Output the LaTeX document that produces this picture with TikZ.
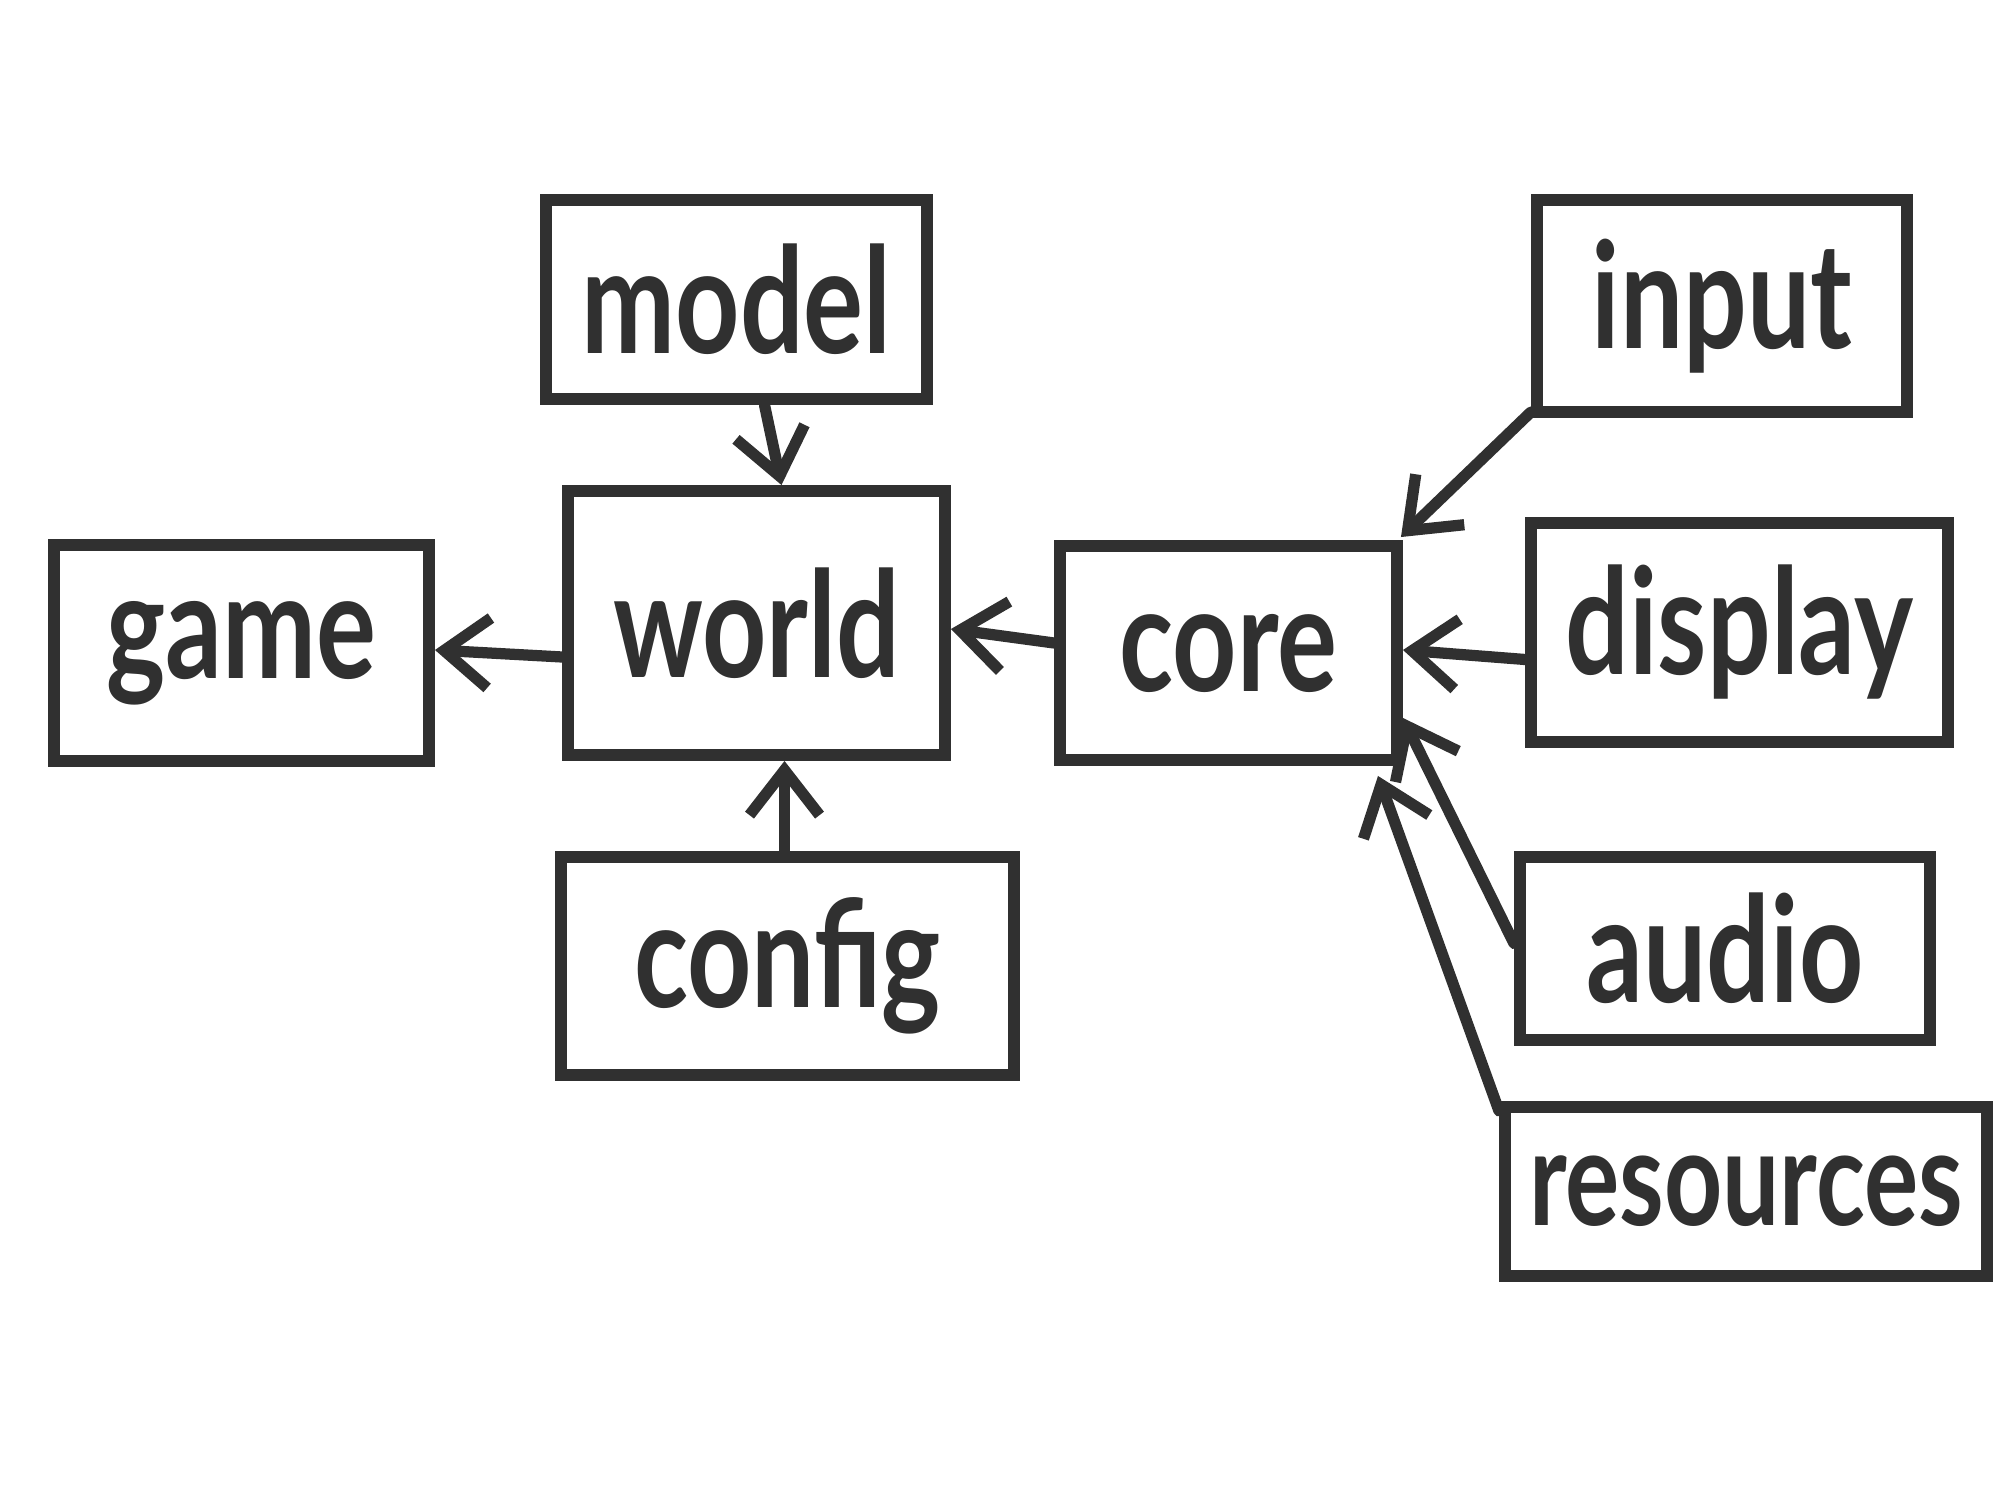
\documentclass[tikz,border=0pt]{standalone}
\usepackage{fontspec}
\newfontfamily\handfont[FakeStretch=0.76]{Lato Bold}
\usetikzlibrary{arrows.meta}
\definecolor{ink}{HTML}{303030}
\begin{document}
\begin{tikzpicture}[
  box/.style={draw=ink, line width=3.4pt, rectangle, inner sep=0pt, text=ink,
    font=\handfont\fontsize{42}{46}\selectfont},
  link/.style={draw=ink, line width=3.2pt, line cap=round,
    -{Straight Barb[length=4.5mm,width=7mm,line width=3.2pt]}}
]
\useasboundingbox (0,0) rectangle (20,15);
\fill[white] (0,0) rectangle (20,15);

\node[box, minimum width=3.81cm, minimum height=1.99cm] (model) at (7.365,12.005) {model};
\node[box, minimum width=3.77cm, minimum height=2.64cm] (world) at (7.565,8.77) {world};
\node[box, minimum width=3.75cm, minimum height=2.16cm] (game) at (2.415,8.47) {game};
\node[box, minimum width=3.37cm, minimum height=2.14cm] (core) at (12.285,8.47) {core};
\node[box, minimum width=4.53cm, minimum height=2.18cm] (config) at (7.875,5.34) {config};
\node[box, minimum width=3.70cm, minimum height=2.12cm] (input) at (17.22,11.94) {input};
\node[box, minimum width=4.17cm, minimum height=2.19cm] (display) at (17.395,8.675) {display};
\node[box, minimum width=4.10cm, minimum height=1.83cm] (audio) at (17.25,5.515) {audio};
\node[box, minimum width=4.82cm, minimum height=1.69cm, font=\handfont\fontsize{38}{42}\selectfont] (resources) at (17.46,3.085) {resources};

\draw[link] ([xshift=0.28cm]model.south) -- ([xshift=0.25cm]world.north);
\draw[link] ([yshift=-0.34cm]world.west) -- ([yshift=0.03cm]game.east);
\draw[link] ([yshift=0.1cm]core.west) -- ([yshift=-0.06cm]world.east);
\draw[link] ([xshift=-0.03cm]config.north) -- ([xshift=-0.03cm]config.north |- world.south);
\draw[link] ([yshift=0.06cm]input.south west) -- ([xshift=-0.02cm,yshift=0.03cm]core.north east);
\draw[link] ([yshift=-0.27cm]display.west) -- ([yshift=0.03cm]core.east);
\draw[link] ([yshift=0.05cm]audio.west) -- ([yshift=-0.65cm]core.east);
\draw[link] ([yshift=-0.1cm]resources.north west) -- ([xshift=-0.25cm,yshift=-0.1cm]core.south east);
\end{tikzpicture}
\end{document}
